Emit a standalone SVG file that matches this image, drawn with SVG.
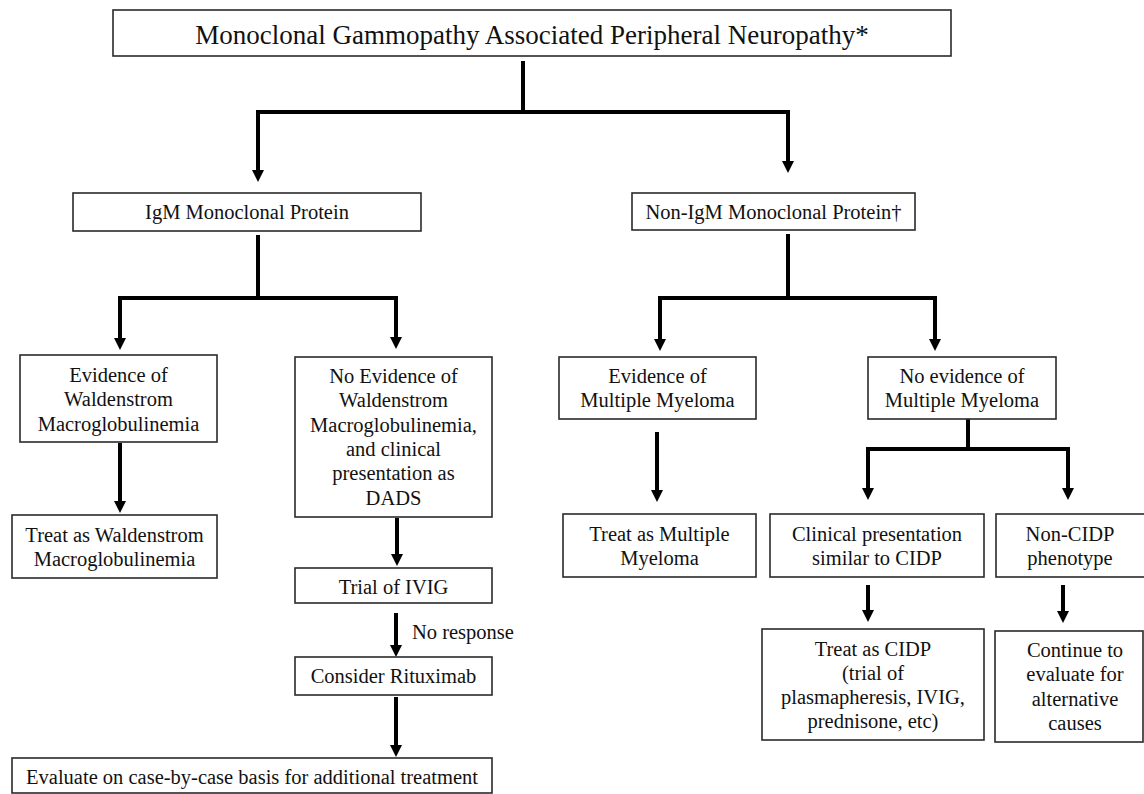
<svg xmlns="http://www.w3.org/2000/svg" width="1144" height="794" viewBox="0 0 1144 794">
<style>
.box{fill:#fff;stroke:#2a2a2a;stroke-width:1.6}
.t{font-family:"Liberation Serif","Times New Roman",serif;font-size:20.5px;fill:#111;text-anchor:middle}
.title{font-size:27px}
.lbl{text-anchor:start}
.c{fill:none;stroke:#000;stroke-width:4;stroke-linejoin:miter;marker-end:url(#ah)}
</style>
<defs>
<marker id="ah" markerUnits="userSpaceOnUse" markerWidth="12" markerHeight="12" viewBox="0 0 12 12" refX="5" refY="6" orient="auto">
<path d="M0,0 L12,6 L0,12 z" fill="#000"/>
</marker>
</defs>
<rect width="1144" height="794" fill="#fff"/>
<g id="connectors">
<path class="c" d="M523,61 V112 H258 V175"/>
<path class="c" d="M523,112 H788 V166"/>
<path class="c" d="M258,235 V298 H120 V343"/>
<path class="c" d="M258,298 H396 V342"/>
<path class="c" d="M788,234 V298 H660 V344"/>
<path class="c" d="M788,298 H935 V344"/>
<path class="c" d="M120,443 V506"/>
<path class="c" d="M397,518 V559"/>
<path class="c" d="M396,613 V650"/>
<path class="c" d="M396,697 V750"/>
<path class="c" d="M657,432 V495"/>
<path class="c" d="M968,419 V449 H868 V493"/>
<path class="c" d="M968,449 H1068 V493"/>
<path class="c" d="M868,585 V615"/>
<path class="c" d="M1063,585 V616"/>
<text class="t lbl" x="412" y="639">No response</text>
</g>
<g id="title"><rect class="box" x="113" y="10" width="838" height="46"/><text class="t title" x="532" y="44">Monoclonal Gammopathy Associated Peripheral Neuropathy*</text></g>
<g id="igm"><rect class="box" x="73" y="193" width="348" height="38"/><text class="t" x="247" y="219">IgM Monoclonal Protein</text></g>
<g id="nonigm"><rect class="box" x="632" y="193" width="283" height="37"/><text class="t" x="773.5" y="219">Non-IgM Monoclonal Protein†</text></g>
<g id="evwm"><rect class="box" x="20" y="355" width="197" height="87"/><text class="t" x="118.5" y="382">Evidence of<tspan x="118.5" y="406">Waldenstrom</tspan><tspan x="118.5" y="431">Macroglobulinemia</tspan></text></g>
<g id="noevwm"><rect class="box" x="295" y="357" width="197" height="160"/><text class="t" x="393.5" y="383">No Evidence of<tspan x="393.5" y="407">Waldenstrom</tspan><tspan x="393.5" y="432">Macroglobulinemia,</tspan><tspan x="393.5" y="456">and clinical</tspan><tspan x="393.5" y="480">presentation as</tspan><tspan x="393.5" y="505">DADS</tspan></text></g>
<g id="treatwm"><rect class="box" x="12" y="515" width="205" height="63"/><text class="t" x="114.5" y="542">Treat as Waldenstrom<tspan x="114.5" y="566">Macroglobulinemia</tspan></text></g>
<g id="trial"><rect class="box" x="295" y="568" width="197" height="35"/><text class="t" x="393.5" y="594">Trial of IVIG</text></g>
<g id="consider"><rect class="box" x="295" y="657" width="197" height="38"/><text class="t" x="393.5" y="683">Consider Rituximab</text></g>
<g id="evaluate"><rect class="box" x="12" y="758" width="480" height="35"/><text class="t" x="252" y="784">Evaluate on case-by-case basis for additional treatment</text></g>
<g id="evmm"><rect class="box" x="559" y="357" width="197" height="62"/><text class="t" x="657.5" y="383">Evidence of<tspan x="657.5" y="407">Multiple Myeloma</tspan></text></g>
<g id="noevmm"><rect class="box" x="868" y="357" width="188" height="62"/><text class="t" x="962" y="383">No evidence of<tspan x="962" y="407">Multiple Myeloma</tspan></text></g>
<g id="treatmm"><rect class="box" x="563" y="514" width="193" height="63"/><text class="t" x="659.5" y="541">Treat as Multiple<tspan x="659.5" y="565">Myeloma</tspan></text></g>
<g id="clinical"><rect class="box" x="770" y="514" width="214" height="63"/><text class="t" x="877" y="541">Clinical presentation<tspan x="877" y="565">similar to CIDP</tspan></text></g>
<g id="noncidp"><rect class="box" x="996" y="514" width="150" height="63"/><text class="t" x="1070" y="541">Non-CIDP<tspan x="1070" y="565">phenotype</tspan></text></g>
<g id="treatcidp"><rect class="box" x="762" y="629" width="222" height="111"/><text class="t" x="873" y="656">Treat as CIDP<tspan x="873" y="680">(trial of</tspan><tspan x="873" y="704">plasmapheresis, IVIG,</tspan><tspan x="873" y="728">prednisone, etc)</tspan></text></g>
<g id="continue"><rect class="box" x="995" y="631" width="148" height="111"/><text class="t" x="1075" y="657">Continue to<tspan x="1075" y="681">evaluate for</tspan><tspan x="1075" y="706">alternative</tspan><tspan x="1075" y="730">causes</tspan></text></g>
</svg>
